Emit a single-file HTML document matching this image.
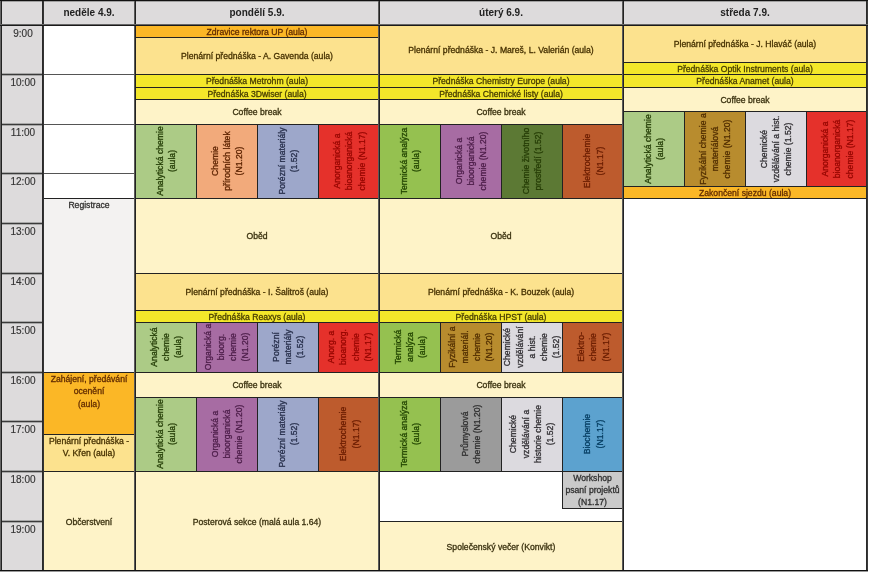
<!DOCTYPE html><html><head><meta charset="utf-8"><style>
html,body{margin:0;padding:0;background:#fff;width:870px;height:575px;overflow:hidden}
body{position:relative;font-family:"Liberation Sans",sans-serif;color:#222}
.c{position:absolute;display:flex;justify-content:center;text-align:center;overflow:hidden;box-sizing:border-box}
.t{font-size:8.65px;line-height:12.3px;white-space:nowrap;-webkit-text-stroke:0.3px currentColor}
.r{position:absolute;left:50%;top:50%;display:flex;align-items:center;justify-content:center;text-align:center;white-space:nowrap}
.l{position:absolute}
.h{position:absolute;top:0;height:25px;display:flex;align-items:center;justify-content:center;font-weight:bold;font-size:10px;color:#222}
.tm{position:absolute;left:2px;width:42px;text-align:center;font-size:10px;color:#333;-webkit-text-stroke:0.15px #333}
</style></head><body><div id="wrap" style="position:absolute;left:0;top:0;width:870px;height:575px;filter:blur(0.35px)">
<div class="c" style="left:0px;top:0px;width:868px;height:25px;background:#dddbdc;color:#312f30;"></div>
<div class="c" style="left:0px;top:25px;width:42px;height:546px;background:#dddbdc;color:#312f30;"></div>
<div class="c" style="left:44px;top:25px;width:90px;height:173px;background:#ffffff;color:#303030;"></div>
<div class="c t" style="left:44px;top:198px;width:90px;height:174px;background:#f3f2f1;color:#31302f;align-items:flex-start;padding-top:1px;"><div>Registrace</div></div>
<div class="c t" style="left:44px;top:372px;width:90px;height:62px;background:#fbb726;color:#632d00;align-items:flex-start;padding-top:1px;"><div>Zahájení, předávání<br>ocenění<br>(aula)</div></div>
<div class="c t" style="left:44px;top:434px;width:90px;height:37px;background:#fce28e;color:#463100;align-items:flex-start;padding-top:1px;"><div>Plenární přednáška -<br>V. Křen (aula)</div></div>
<div class="c t" style="left:44px;top:471px;width:90px;height:100px;background:#fef3c8;color:#3a310f;align-items:center;padding-top:1.5px;"><div>Občerstvení</div></div>
<div class="c t" style="left:136px;top:25px;width:242px;height:12px;background:#fbb726;color:#632d00;align-items:center;padding-top:1.5px;"><div>Zdravice rektora UP (aula)</div></div>
<div class="c t" style="left:136px;top:37px;width:242px;height:37px;background:#fce28e;color:#463100;align-items:center;padding-top:1.5px;"><div>Plenární přednáška - A. Gavenda (aula)</div></div>
<div class="c t" style="left:136px;top:74px;width:242px;height:13px;background:#f3e72a;color:#483e00;align-items:center;padding-top:1.5px;"><div>Přednáška Metrohm (aula)</div></div>
<div class="c t" style="left:136px;top:87px;width:242px;height:12px;background:#f3e72a;color:#483e00;align-items:center;padding-top:1.5px;"><div>Přednáška 3Dwiser (aula)</div></div>
<div class="c t" style="left:136px;top:99px;width:242px;height:25px;background:#fef3c8;color:#3a310f;align-items:center;padding-top:1.5px;"><div>Coffee break</div></div>
<div class="c" style="left:136px;top:124px;width:60px;height:74px;background:#accb86;color:#253e07;"><div class="r t" style="width:74px;height:60px;transform:translate(-50%,-50%) rotate(-90deg)">Analytická chemie<br>(aula)</div></div>
<div class="c" style="left:197px;top:124px;width:60px;height:74px;background:#f2aa7b;color:#5d2300;"><div class="r t" style="width:74px;height:60px;transform:translate(-50%,-50%) rotate(-90deg)">Chemie<br>přírodních látek<br>(N1.20)</div></div>
<div class="c" style="left:258px;top:124px;width:60px;height:74px;background:#9da7ca;color:#272f4b;"><div class="r t" style="width:74px;height:60px;transform:translate(-50%,-50%) rotate(-90deg)">Porézní materiály<br>(1.52)</div></div>
<div class="c" style="left:319px;top:124px;width:59px;height:74px;background:#e5312b;color:#960601;"><div class="r t" style="width:74px;height:59px;transform:translate(-50%,-50%) rotate(-90deg)">Anorganická a<br>bioanorganická<br>chemie (N1.17)</div></div>
<div class="c t" style="left:136px;top:198px;width:242px;height:75px;background:#fef3c8;color:#3a310f;align-items:center;padding-top:1.5px;"><div>Oběd</div></div>
<div class="c t" style="left:136px;top:273px;width:242px;height:37px;background:#fce28e;color:#463100;align-items:center;padding-top:1.5px;"><div>Plenární přednáška - I. Šalitroš (aula)</div></div>
<div class="c t" style="left:136px;top:310px;width:242px;height:12px;background:#f3e72a;color:#483e00;align-items:center;padding-top:1.5px;"><div>Přednáška Reaxys (aula)</div></div>
<div class="c" style="left:136px;top:322px;width:60px;height:50px;background:#accb86;color:#253e07;"><div class="r t" style="width:50px;height:60px;transform:translate(-50%,-50%) rotate(-90deg)">Analytická<br>chemie<br>(aula)</div></div>
<div class="c" style="left:197px;top:322px;width:60px;height:50px;background:#a76ca3;color:#4c1d49;"><div class="r t" style="width:50px;height:60px;transform:translate(-50%,-50%) rotate(-90deg)">Organická a<br>bioorg.<br>chemie<br>(N1.20)</div></div>
<div class="c" style="left:258px;top:322px;width:60px;height:50px;background:#9da7ca;color:#272f4b;"><div class="r t" style="width:50px;height:60px;transform:translate(-50%,-50%) rotate(-90deg)">Porézní<br>materiály<br>(1.52)</div></div>
<div class="c" style="left:319px;top:322px;width:59px;height:50px;background:#e5312b;color:#960601;"><div class="r t" style="width:50px;height:59px;transform:translate(-50%,-50%) rotate(-90deg)">Anorg. a<br>bioanorg.<br>chemie<br>(N1.17)</div></div>
<div class="c t" style="left:136px;top:372px;width:242px;height:25px;background:#fef3c8;color:#3a310f;align-items:center;padding-top:1.5px;"><div>Coffee break</div></div>
<div class="c" style="left:136px;top:397px;width:60px;height:74px;background:#accb86;color:#253e07;"><div class="r t" style="width:74px;height:60px;transform:translate(-50%,-50%) rotate(-90deg)">Analytická chemie<br>(aula)</div></div>
<div class="c" style="left:197px;top:397px;width:60px;height:74px;background:#a76ca3;color:#4c1d49;"><div class="r t" style="width:74px;height:60px;transform:translate(-50%,-50%) rotate(-90deg)">Organická a<br>bioorganická<br>chemie (N1.20)</div></div>
<div class="c" style="left:258px;top:397px;width:60px;height:74px;background:#9da7ca;color:#272f4b;"><div class="r t" style="width:74px;height:60px;transform:translate(-50%,-50%) rotate(-90deg)">Porézní materiály<br>(1.52)</div></div>
<div class="c" style="left:319px;top:397px;width:59px;height:74px;background:#bd5b2d;color:#6b1d00;"><div class="r t" style="width:74px;height:59px;transform:translate(-50%,-50%) rotate(-90deg)">Elektrochemie<br>(N1.17)</div></div>
<div class="c t" style="left:136px;top:471px;width:242px;height:100px;background:#fef3c8;color:#3a310f;align-items:center;padding-top:1.5px;"><div>Posterová sekce (malá aula 1.64)</div></div>
<div class="c t" style="left:380px;top:25px;width:242px;height:49px;background:#fce28e;color:#463100;align-items:center;padding-top:1.5px;"><div>Plenární přednáška - J. Mareš, L. Valerián (aula)</div></div>
<div class="c t" style="left:380px;top:74px;width:242px;height:13px;background:#f3e72a;color:#483e00;align-items:center;padding-top:1.5px;"><div>Přednáška Chemistry Europe (aula)</div></div>
<div class="c t" style="left:380px;top:87px;width:242px;height:12px;background:#f3e72a;color:#483e00;align-items:center;padding-top:1.5px;"><div>Přednáška Chemické listy (aula)</div></div>
<div class="c t" style="left:380px;top:99px;width:242px;height:25px;background:#fef3c8;color:#3a310f;align-items:center;padding-top:1.5px;"><div>Coffee break</div></div>
<div class="c" style="left:380px;top:124px;width:60px;height:74px;background:#95c150;color:#224500;"><div class="r t" style="width:74px;height:60px;transform:translate(-50%,-50%) rotate(-90deg)">Termická analýza<br>(aula)</div></div>
<div class="c" style="left:441px;top:124px;width:60px;height:74px;background:#a76ca3;color:#4c1d49;"><div class="r t" style="width:74px;height:60px;transform:translate(-50%,-50%) rotate(-90deg)">Organická a<br>bioorganická<br>chemie (N1.20)</div></div>
<div class="c" style="left:502px;top:124px;width:60px;height:74px;background:#5c7934;color:#263d06;"><div class="r t" style="width:74px;height:60px;transform:translate(-50%,-50%) rotate(-90deg)">Chemie životního<br>prostředí (1.52)</div></div>
<div class="c" style="left:563px;top:124px;width:59px;height:74px;background:#bd5b2d;color:#6b1d00;"><div class="r t" style="width:74px;height:59px;transform:translate(-50%,-50%) rotate(-90deg)">Elektrochemie<br>(N1.17)</div></div>
<div class="c t" style="left:380px;top:198px;width:242px;height:75px;background:#fef3c8;color:#3a310f;align-items:center;padding-top:1.5px;"><div>Oběd</div></div>
<div class="c t" style="left:380px;top:273px;width:242px;height:37px;background:#fce28e;color:#463100;align-items:center;padding-top:1.5px;"><div>Plenární přednáška - K. Bouzek (aula)</div></div>
<div class="c t" style="left:380px;top:310px;width:242px;height:12px;background:#f3e72a;color:#483e00;align-items:center;padding-top:1.5px;"><div>Přednáška HPST (aula)</div></div>
<div class="c" style="left:380px;top:322px;width:60px;height:50px;background:#95c150;color:#224500;"><div class="r t" style="width:50px;height:60px;transform:translate(-50%,-50%) rotate(-90deg)">Termická<br>analýza<br>(aula)</div></div>
<div class="c" style="left:441px;top:322px;width:60px;height:50px;background:#b88c2e;color:#512e00;"><div class="r t" style="width:50px;height:60px;transform:translate(-50%,-50%) rotate(-90deg)">Fyzikální a<br>materiál.<br>chemie<br>(N1.20)</div></div>
<div class="c" style="left:502px;top:322px;width:60px;height:50px;background:#dcdadf;color:#312f33;"><div class="r t" style="width:50px;height:60px;transform:translate(-50%,-50%) rotate(-90deg)">Chemické<br>vzdělávání<br>a hist.<br>chemie<br>(1.52)</div></div>
<div class="c" style="left:563px;top:322px;width:59px;height:50px;background:#bd5b2d;color:#6b1d00;"><div class="r t" style="width:50px;height:59px;transform:translate(-50%,-50%) rotate(-90deg)">Elektro-<br>chemie<br>(N1.17)</div></div>
<div class="c t" style="left:380px;top:372px;width:242px;height:25px;background:#fef3c8;color:#3a310f;align-items:center;padding-top:1.5px;"><div>Coffee break</div></div>
<div class="c" style="left:380px;top:397px;width:60px;height:74px;background:#95c150;color:#224500;"><div class="r t" style="width:74px;height:60px;transform:translate(-50%,-50%) rotate(-90deg)">Termická analýza<br>(aula)</div></div>
<div class="c" style="left:441px;top:397px;width:60px;height:74px;background:#9b9b9b;color:#303030;"><div class="r t" style="width:74px;height:60px;transform:translate(-50%,-50%) rotate(-90deg)">Průmyslová<br>chemie (N1.20)</div></div>
<div class="c" style="left:502px;top:397px;width:60px;height:74px;background:#dcdadf;color:#312f33;"><div class="r t" style="width:74px;height:60px;transform:translate(-50%,-50%) rotate(-90deg)">Chemické<br>vzdělávání a<br>historie chemie<br>(1.52)</div></div>
<div class="c" style="left:563px;top:397px;width:59px;height:74px;background:#5ca2cf;color:#053d61;"><div class="r t" style="width:74px;height:59px;transform:translate(-50%,-50%) rotate(-90deg)">Biochemie<br>(N1.17)</div></div>
<div class="c" style="left:380px;top:471px;width:242px;height:50px;background:#ffffff;color:#303030;"></div>
<div class="c t" style="left:563px;top:471px;width:59px;height:37px;background:#cacaca;color:#303030;align-items:center;padding-top:1.5px;"><div>Workshop<br>psaní projektů<br>(N1.17)</div></div>
<div class="c t" style="left:380px;top:521px;width:242px;height:50px;background:#fef3c8;color:#3a310f;align-items:center;padding-top:1.5px;"><div>Společenský večer (Konvikt)</div></div>
<div class="c t" style="left:624px;top:25px;width:242px;height:37px;background:#fce28e;color:#463100;align-items:center;padding-top:1.5px;"><div>Plenární přednáška - J. Hlaváč (aula)</div></div>
<div class="c t" style="left:624px;top:62px;width:242px;height:12px;background:#f3e72a;color:#483e00;align-items:center;padding-top:1.5px;"><div>Přednáška Optik Instruments (aula)</div></div>
<div class="c t" style="left:624px;top:74px;width:242px;height:13px;background:#f3e72a;color:#483e00;align-items:center;padding-top:1.5px;"><div>Přednáška Anamet (aula)</div></div>
<div class="c t" style="left:624px;top:87px;width:242px;height:24px;background:#fef3c8;color:#3a310f;align-items:center;padding-top:1.5px;"><div>Coffee break</div></div>
<div class="c" style="left:624px;top:111px;width:60px;height:75px;background:#accb86;color:#253e07;"><div class="r t" style="width:75px;height:60px;transform:translate(-50%,-50%) rotate(-90deg)">Analytická chemie<br>(aula)</div></div>
<div class="c" style="left:685px;top:111px;width:60px;height:75px;background:#b88c2e;color:#512e00;"><div class="r t" style="width:75px;height:60px;transform:translate(-50%,-50%) rotate(-90deg)">Fyzikální chemie a<br>materiálová<br>chemie (N1.20)</div></div>
<div class="c" style="left:746px;top:111px;width:60px;height:75px;background:#dcdadf;color:#312f33;"><div class="r t" style="width:75px;height:60px;transform:translate(-50%,-50%) rotate(-90deg)">Chemické<br>vzdělávání a hist.<br>chemie (1.52)</div></div>
<div class="c" style="left:807px;top:111px;width:59px;height:75px;background:#e5312b;color:#960601;"><div class="r t" style="width:75px;height:59px;transform:translate(-50%,-50%) rotate(-90deg)">Anorganická a<br>bioanorganická<br>chemie (N1.17)</div></div>
<div class="c t" style="left:624px;top:186px;width:242px;height:12px;background:#fbb726;color:#632d00;align-items:center;padding-top:1.5px;"><div>Zakončení sjezdu (aula)</div></div>
<div class="c" style="left:624px;top:198px;width:242px;height:373px;background:#ffffff;color:#303030;"></div>
<div class="l" style="left:44px;top:74px;width:90px;height:1px;background:#555"></div>
<div class="l" style="left:44px;top:124px;width:90px;height:1px;background:#555"></div>
<div class="l" style="left:44px;top:173px;width:90px;height:1px;background:#555"></div>
<div class="l" style="left:44px;top:198px;width:90px;height:1px;background:#222"></div>
<div class="l" style="left:44px;top:372px;width:90px;height:1px;background:#222"></div>
<div class="l" style="left:44px;top:434px;width:90px;height:1px;background:#222"></div>
<div class="l" style="left:44px;top:471px;width:90px;height:1px;background:#222"></div>
<div class="l" style="left:136px;top:37px;width:242px;height:1px;background:#222"></div>
<div class="l" style="left:136px;top:74px;width:242px;height:1px;background:#222"></div>
<div class="l" style="left:136px;top:87px;width:242px;height:1px;background:#222"></div>
<div class="l" style="left:136px;top:99px;width:242px;height:1px;background:#222"></div>
<div class="l" style="left:136px;top:124px;width:242px;height:1px;background:#222"></div>
<div class="l" style="left:196px;top:124px;width:1px;height:74px;background:#222"></div>
<div class="l" style="left:257px;top:124px;width:1px;height:74px;background:#222"></div>
<div class="l" style="left:318px;top:124px;width:1px;height:74px;background:#222"></div>
<div class="l" style="left:136px;top:198px;width:242px;height:1px;background:#222"></div>
<div class="l" style="left:136px;top:273px;width:242px;height:1px;background:#222"></div>
<div class="l" style="left:136px;top:310px;width:242px;height:1px;background:#222"></div>
<div class="l" style="left:136px;top:322px;width:242px;height:1px;background:#222"></div>
<div class="l" style="left:196px;top:322px;width:1px;height:50px;background:#222"></div>
<div class="l" style="left:257px;top:322px;width:1px;height:50px;background:#222"></div>
<div class="l" style="left:318px;top:322px;width:1px;height:50px;background:#222"></div>
<div class="l" style="left:136px;top:372px;width:242px;height:1px;background:#222"></div>
<div class="l" style="left:136px;top:397px;width:242px;height:1px;background:#222"></div>
<div class="l" style="left:196px;top:397px;width:1px;height:74px;background:#222"></div>
<div class="l" style="left:257px;top:397px;width:1px;height:74px;background:#222"></div>
<div class="l" style="left:318px;top:397px;width:1px;height:74px;background:#222"></div>
<div class="l" style="left:136px;top:471px;width:242px;height:1px;background:#222"></div>
<div class="l" style="left:380px;top:74px;width:242px;height:1px;background:#222"></div>
<div class="l" style="left:380px;top:87px;width:242px;height:1px;background:#222"></div>
<div class="l" style="left:380px;top:99px;width:242px;height:1px;background:#222"></div>
<div class="l" style="left:380px;top:124px;width:242px;height:1px;background:#222"></div>
<div class="l" style="left:440px;top:124px;width:1px;height:74px;background:#222"></div>
<div class="l" style="left:501px;top:124px;width:1px;height:74px;background:#222"></div>
<div class="l" style="left:562px;top:124px;width:1px;height:74px;background:#222"></div>
<div class="l" style="left:380px;top:198px;width:242px;height:1px;background:#222"></div>
<div class="l" style="left:380px;top:273px;width:242px;height:1px;background:#222"></div>
<div class="l" style="left:380px;top:310px;width:242px;height:1px;background:#222"></div>
<div class="l" style="left:380px;top:322px;width:242px;height:1px;background:#222"></div>
<div class="l" style="left:440px;top:322px;width:1px;height:50px;background:#222"></div>
<div class="l" style="left:501px;top:322px;width:1px;height:50px;background:#222"></div>
<div class="l" style="left:562px;top:322px;width:1px;height:50px;background:#222"></div>
<div class="l" style="left:380px;top:372px;width:242px;height:1px;background:#222"></div>
<div class="l" style="left:380px;top:397px;width:242px;height:1px;background:#222"></div>
<div class="l" style="left:440px;top:397px;width:1px;height:74px;background:#222"></div>
<div class="l" style="left:501px;top:397px;width:1px;height:74px;background:#222"></div>
<div class="l" style="left:562px;top:397px;width:1px;height:74px;background:#222"></div>
<div class="l" style="left:380px;top:471px;width:242px;height:1px;background:#222"></div>
<div class="l" style="left:562px;top:471px;width:1px;height:37px;background:#222"></div>
<div class="l" style="left:562px;top:508px;width:60px;height:1px;background:#222"></div>
<div class="l" style="left:380px;top:521px;width:242px;height:1px;background:#222"></div>
<div class="l" style="left:624px;top:62px;width:242px;height:1px;background:#222"></div>
<div class="l" style="left:624px;top:74px;width:242px;height:1px;background:#222"></div>
<div class="l" style="left:624px;top:87px;width:242px;height:1px;background:#222"></div>
<div class="l" style="left:624px;top:111px;width:242px;height:1px;background:#222"></div>
<div class="l" style="left:684px;top:111px;width:1px;height:75px;background:#222"></div>
<div class="l" style="left:745px;top:111px;width:1px;height:75px;background:#222"></div>
<div class="l" style="left:806px;top:111px;width:1px;height:75px;background:#222"></div>
<div class="l" style="left:624px;top:186px;width:242px;height:1px;background:#222"></div>
<div class="l" style="left:624px;top:198px;width:242px;height:1px;background:#222"></div>
<div class="l" style="left:0px;top:73px;width:42px;height:1px;background:#a8a8a8"></div>
<div class="l" style="left:0px;top:74px;width:42px;height:1px;background:#3a3a3a"></div>
<div class="l" style="left:0px;top:75px;width:42px;height:1px;background:#a8a8a8"></div>
<div class="l" style="left:0px;top:123px;width:42px;height:1px;background:#a8a8a8"></div>
<div class="l" style="left:0px;top:124px;width:42px;height:1px;background:#3a3a3a"></div>
<div class="l" style="left:0px;top:125px;width:42px;height:1px;background:#a8a8a8"></div>
<div class="l" style="left:0px;top:172px;width:42px;height:1px;background:#a8a8a8"></div>
<div class="l" style="left:0px;top:173px;width:42px;height:1px;background:#3a3a3a"></div>
<div class="l" style="left:0px;top:174px;width:42px;height:1px;background:#a8a8a8"></div>
<div class="l" style="left:0px;top:222px;width:42px;height:1px;background:#a8a8a8"></div>
<div class="l" style="left:0px;top:223px;width:42px;height:1px;background:#3a3a3a"></div>
<div class="l" style="left:0px;top:224px;width:42px;height:1px;background:#a8a8a8"></div>
<div class="l" style="left:0px;top:272px;width:42px;height:1px;background:#a8a8a8"></div>
<div class="l" style="left:0px;top:273px;width:42px;height:1px;background:#3a3a3a"></div>
<div class="l" style="left:0px;top:274px;width:42px;height:1px;background:#a8a8a8"></div>
<div class="l" style="left:0px;top:321px;width:42px;height:1px;background:#a8a8a8"></div>
<div class="l" style="left:0px;top:322px;width:42px;height:1px;background:#3a3a3a"></div>
<div class="l" style="left:0px;top:323px;width:42px;height:1px;background:#a8a8a8"></div>
<div class="l" style="left:0px;top:371px;width:42px;height:1px;background:#a8a8a8"></div>
<div class="l" style="left:0px;top:372px;width:42px;height:1px;background:#3a3a3a"></div>
<div class="l" style="left:0px;top:373px;width:42px;height:1px;background:#a8a8a8"></div>
<div class="l" style="left:0px;top:420px;width:42px;height:1px;background:#a8a8a8"></div>
<div class="l" style="left:0px;top:421px;width:42px;height:1px;background:#3a3a3a"></div>
<div class="l" style="left:0px;top:422px;width:42px;height:1px;background:#a8a8a8"></div>
<div class="l" style="left:0px;top:470px;width:42px;height:1px;background:#a8a8a8"></div>
<div class="l" style="left:0px;top:471px;width:42px;height:1px;background:#3a3a3a"></div>
<div class="l" style="left:0px;top:472px;width:42px;height:1px;background:#a8a8a8"></div>
<div class="l" style="left:0px;top:520px;width:42px;height:1px;background:#a8a8a8"></div>
<div class="l" style="left:0px;top:521px;width:42px;height:1px;background:#3a3a3a"></div>
<div class="l" style="left:0px;top:522px;width:42px;height:1px;background:#a8a8a8"></div>
<div class="l" style="left:2px;top:1px;width:864px;height:1px;background:#a0a0a0"></div>
<div class="l" style="left:0px;top:0px;width:1px;height:572px;background:#666"></div>
<div class="l" style="left:1px;top:0px;width:1px;height:572px;background:#222"></div>
<div class="l" style="left:42px;top:0px;width:1px;height:572px;background:#2a2a2a"></div>
<div class="l" style="left:43px;top:0px;width:1px;height:572px;background:#333"></div>
<div class="l" style="left:134px;top:0px;width:1px;height:572px;background:#5a5a5a"></div>
<div class="l" style="left:135px;top:0px;width:1px;height:572px;background:#222"></div>
<div class="l" style="left:378px;top:0px;width:1px;height:572px;background:#5a5a5a"></div>
<div class="l" style="left:379px;top:0px;width:1px;height:572px;background:#222"></div>
<div class="l" style="left:622px;top:0px;width:1px;height:572px;background:#5a5a5a"></div>
<div class="l" style="left:623px;top:0px;width:1px;height:572px;background:#222"></div>
<div class="l" style="left:866px;top:0px;width:1px;height:572px;background:#2a2a2a"></div>
<div class="l" style="left:867px;top:0px;width:1px;height:572px;background:#3a3a3a"></div>
<div class="l" style="left:0px;top:0px;width:868px;height:1px;background:#111"></div>
<div class="l" style="left:0px;top:24px;width:868px;height:1px;background:#666"></div>
<div class="l" style="left:0px;top:25px;width:868px;height:1px;background:#1a1a1a"></div>
<div class="l" style="left:0px;top:570px;width:868px;height:1px;background:#111"></div>
<div class="l" style="left:0px;top:571px;width:868px;height:1px;background:#999"></div>
<div class="h" style="left:44px;width:90px">neděle 4.9.</div>
<div class="h" style="left:136px;width:242px">pondělí 5.9.</div>
<div class="h" style="left:380px;width:242px">úterý 6.9.</div>
<div class="h" style="left:624px;width:242px">středa 7.9.</div>
<div class="tm" style="top:28px">9:00</div>
<div class="tm" style="top:77px">10:00</div>
<div class="tm" style="top:127px">11:00</div>
<div class="tm" style="top:176px">12:00</div>
<div class="tm" style="top:226px">13:00</div>
<div class="tm" style="top:276px">14:00</div>
<div class="tm" style="top:325px">15:00</div>
<div class="tm" style="top:375px">16:00</div>
<div class="tm" style="top:424px">17:00</div>
<div class="tm" style="top:474px">18:00</div>
<div class="tm" style="top:524px">19:00</div>
</div></body></html>
